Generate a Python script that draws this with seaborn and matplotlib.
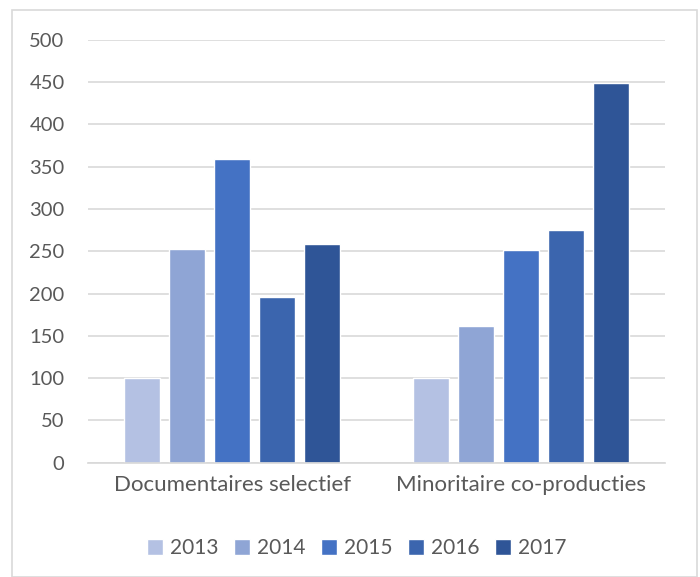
import matplotlib.pyplot as plt
import pandas as pd
import seaborn as sns
from matplotlib.patches import Rectangle

categories = ["Documentaires selectief", "Minoritaire co-producties"]
years = ["2013", "2014", "2015", "2016", "2017"]
values_2013 = [100, 100]
values_2014 = [253, 162]
values_2015 = [359, 251]
values_2016 = [196, 275]
values_2017 = [259, 449]
colours = ["#B4C1E3", "#8FA5D5", "#4472C4", "#3B65AE", "#2F5597"]

series = [values_2013, values_2014, values_2015, values_2016, values_2017]
df = pd.DataFrame(
    [(c, y, v[i]) for y, v in zip(years, series) for i, c in enumerate(categories)],
    columns=["category", "year", "value"],
)

sns.set_theme(style="white")
plt.rcParams["font.family"] = ["Lato", "DejaVu Sans"]

fig = plt.figure(figsize=(7, 5.77), dpi=100)
ax = fig.add_axes([0.126, 0.198, 0.824, 0.733])

sns.barplot(
    data=df, x="category", y="value", hue="year",
    palette=colours, width=0.78, gap=0.2, saturation=1,
    ax=ax, errorbar=None,
)

ax.set_ylim(0, 500)
ax.set_yticks(range(0, 501, 50))
ax.set_xlim(-0.5, 1.5)
ax.grid(axis="y", color="#D9D9D9", linewidth=1.2)
ax.set_axisbelow(True)
for s in ["top", "right", "left"]:
    ax.spines[s].set_visible(False)
ax.spines["bottom"].set_color("#D9D9D9")
ax.tick_params(axis="both", length=0, labelcolor="#595959")
ax.tick_params(axis="x", pad=9, labelsize=16)
ax.tick_params(axis="y", pad=17, labelsize=14.5)
ax.set_xlabel("")
ax.set_ylabel("")

handles, labels = ax.get_legend_handles_labels()
ax.get_legend().remove()
leg = fig.legend(
    handles, labels, loc="center", bbox_to_anchor=(0.51, 0.05), ncol=5,
    frameon=False, fontsize=15, handlelength=0.75, handleheight=0.75,
    handletextpad=0.35, columnspacing=0.75,
)
for t in leg.get_texts():
    t.set_color("#595959")

fig.patches.append(Rectangle((0.017, 0.0), 0.978, 0.983, transform=fig.transFigure,
                             fill=False, edgecolor="#D9D9D9", linewidth=1.2))

fig.savefig("out.png", dpi=100)
